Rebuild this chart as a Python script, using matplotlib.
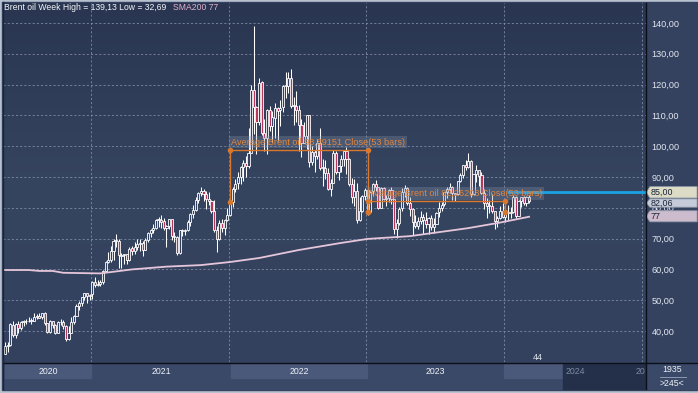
import numpy as np
import matplotlib.pyplot as plt
import matplotlib.transforms as mtransforms
from matplotlib.colors import LinearSegmentedColormap
from matplotlib.patches import Polygon, Rectangle

plt.rcParams['font.family'] = ['Liberation Sans', 'DejaVu Sans']

# weekly Brent candles, week ending 2020-05-22 .. 2024-03-08
opens = [
    # 2020
    32.5, 35.2, 35.4, 42.0, 38.6, 42.2, 41.1, 42.9, 43.3, 43.1, 43.4, 43.4, 44.5, 44.8, 44.4, 45.8, 42.5,
    39.8, 43.1, 41.9, 39.3, 42.8, 42.9, 41.7, 37.5, 39.5, 42.8, 45.0, 48.2, 49.2, 51.0, 52.3, 51.3,
    # 2021
    51.9, 56.0, 55.1, 55.4, 55.9, 59.4, 62.5, 62.9, 65.9, 69.4, 69.3, 64.5, 64.6, 64.9, 63.0, 66.8, 66.1,
    67.3, 68.3, 68.7, 66.4, 69.6, 71.9, 72.7, 73.5, 76.2, 76.2, 75.6, 73.6, 74.1, 76.3, 70.7, 70.6, 65.2,
    72.7, 72.6, 72.9, 75.3, 78.1, 79.3, 82.4, 84.9, 85.5, 84.4, 82.7, 82.2, 78.9, 72.7, 69.9, 75.2, 73.5, 76.1,
    # 2022
    77.8, 81.8, 86.1, 87.9, 90.0, 93.3, 94.4, 93.5, 97.9, 118.1, 112.7, 107.9, 120.7, 104.4, 102.8, 111.7,
    106.7, 109.3, 112.4, 111.6, 112.6, 119.4, 119.7, 122.0, 113.1, 113.1, 111.6, 107.0, 101.2, 103.2, 110.0,
    94.9, 98.2, 96.7, 101.0, 93.0, 92.8, 91.4, 86.2, 88.0, 97.9, 91.6, 93.5, 95.8, 98.6, 96.0, 87.6, 83.6,
    85.6, 76.1, 79.0, 83.9,
    # 2023
    85.9, 78.6, 85.3, 87.6, 86.7, 79.9, 86.4, 83.0, 83.2, 85.8, 82.8, 73.0, 75.0, 79.8, 85.1, 86.3, 81.7,
    79.5, 75.3, 74.2, 75.6, 77.0, 76.1, 74.8, 76.6, 73.9, 74.9, 78.5, 79.9, 81.1, 85.0, 86.2, 86.8, 84.8,
    84.5, 88.6, 90.7, 93.9, 93.3, 95.3, 84.6, 90.9, 92.2, 90.5, 84.9, 81.4, 80.6, 80.6, 78.9, 75.8, 76.6, 79.1,
    # 2024
    77.0, 78.8, 78.3, 78.6, 83.6, 77.3, 82.2, 83.5, 81.6, 83.6,
]
highs = [
    36.4, 36.4, 42.5, 43.4, 42.6, 43.2, 43.2, 43.6, 43.9, 44.7, 44.2, 46.0, 45.5, 46.0, 46.0, 46.2, 42.6,
    43.6, 43.4, 42.4, 43.1, 43.9, 43.6, 41.9, 41.6, 44.4, 45.2, 48.8, 49.9, 51.0, 52.5, 52.5, 51.9,
    56.3, 57.4, 56.6, 56.4, 59.8, 62.8, 65.5, 67.7, 69.8, 71.4, 69.9, 65.2, 65.1, 64.9, 67.3, 67.6, 69.0,
    69.8, 69.9, 69.3, 70.3, 72.1, 73.1, 74.9, 76.4, 77.0, 77.8, 76.6, 74.3, 76.5, 76.4, 72.2, 71.0, 72.8,
    73.2, 73.2, 76.1, 78.2, 80.8, 83.5, 85.1, 86.7, 86.0, 85.3, 85.0, 82.5, 82.6, 74.0, 76.0, 76.3, 76.5, 79.8,
    83.0, 86.7, 89.5, 91.7, 93.7, 95.5, 96.8, 105.8, 119.8, 139.13, 113.0, 122.0, 121.2, 108.9, 112.0, 113.2,
    111.4, 114.0, 112.7, 115.0, 120.0, 124.0, 124.0, 125.2, 116.0, 118.0, 113.4, 108.8, 107.8, 110.2, 110.2,
    100.0, 98.9, 102.2, 106.0, 96.0, 95.5, 93.0, 89.4, 98.8, 98.3, 94.0, 97.0, 98.9, 99.6, 96.3, 89.8, 89.4,
    88.0, 83.4, 84.2, 86.5,
    86.4, 85.5, 88.0, 89.1, 86.9, 86.9, 86.9, 84.0, 86.0, 86.8, 83.0, 76.5, 80.2, 86.4, 87.5, 86.6, 83.5,
    79.9, 77.7, 77.0, 78.9, 78.1, 78.7, 77.0, 77.7, 76.6, 78.6, 81.8, 81.8, 85.1, 86.6, 88.1, 87.2, 84.8,
    88.8, 91.2, 94.0, 95.4, 97.7, 95.5, 91.0, 93.8, 92.3, 91.6, 86.0, 83.3, 82.6, 84.4, 79.1, 77.4, 80.6, 81.4,
    79.2, 80.8, 80.1, 84.0, 83.7, 82.6, 83.6, 83.8, 83.9, 84.1,
]
lows = [
    32.69, 33.3, 35.1, 37.9, 37.7, 39.5, 40.2, 41.7, 42.4, 42.8, 42.2, 43.2, 43.9, 44.2, 44.0, 42.1, 39.4,
    39.3, 41.1, 38.9, 39.2, 41.9, 40.5, 36.6, 37.1, 39.3, 42.2, 44.8, 46.9, 48.1, 50.2, 49.1, 50.2,
    50.4, 54.3, 54.5, 54.5, 55.4, 59.2, 62.0, 62.5, 63.1, 67.2, 60.5, 60.3, 61.6, 61.8, 62.6, 64.8, 64.9,
    66.3, 66.0, 64.3, 66.3, 68.9, 70.4, 71.8, 73.0, 73.8, 73.6, 72.8, 67.4, 73.2, 69.4, 68.8, 64.6, 65.0,
    70.8, 71.1, 72.4, 74.1, 76.6, 79.0, 81.4, 83.8, 82.3, 79.7, 80.8, 78.4, 72.1, 65.7, 69.6, 72.0, 71.1, 75.8,
    77.4, 80.1, 85.1, 86.2, 87.6, 88.7, 90.0, 92.9, 97.8, 104.0, 97.4, 107.0, 103.6, 98.5, 97.6, 104.8,
    101.4, 102.5, 101.7, 106.4, 111.0, 115.7, 117.4, 112.4, 107.0, 108.0, 98.5, 96.4, 101.0, 99.1, 93.2,
    93.8, 91.5, 95.8, 92.4, 87.0, 89.4, 85.9, 83.7, 87.9, 91.0, 89.1, 91.7, 93.6, 91.1, 87.2, 81.6, 80.6,
    75.1, 75.8, 78.5, 82.6,
    77.8, 78.4, 83.7, 85.5, 79.7, 79.9, 82.6, 80.6, 82.0, 81.3, 71.4, 70.1, 74.5, 79.0, 83.6, 80.9, 77.5,
    71.3, 73.4, 73.2, 74.7, 71.4, 73.5, 71.6, 72.9, 71.8, 74.6, 77.0, 78.9, 80.6, 83.2, 84.9, 82.6, 82.3,
    84.3, 88.3, 89.8, 92.3, 92.8, 83.5, 84.3, 88.4, 87.1, 84.5, 79.6, 76.6, 78.4, 78.4, 73.0, 73.8, 76.5, 76.6,
    75.5, 75.9, 76.7, 78.3, 76.6, 77.2, 80.2, 80.9, 80.6, 81.6,
]
closes = [
    35.13, 35.33, 42.30, 38.73, 42.19, 41.02, 42.80, 43.24, 43.14, 43.34, 43.30, 44.40, 44.80, 44.35, 45.81,
    42.66, 39.83, 43.15, 41.92, 39.27, 42.85, 42.93, 41.77, 37.46, 39.45, 42.78, 44.96, 48.18, 49.25, 50.97,
    52.26, 51.29, 51.80,
    55.99, 55.10, 55.41, 55.88, 59.34, 62.43, 62.91, 66.13, 69.36, 69.22, 64.53, 64.57, 64.86, 62.95, 66.77,
    66.11, 67.25, 68.28, 68.71, 66.44, 69.63, 71.89, 72.69, 73.51, 76.18, 76.17, 75.55, 73.59, 74.10, 76.33,
    70.70, 70.59, 65.18, 72.70, 72.61, 72.92, 75.34, 78.09, 79.28, 82.39, 84.86, 85.53, 84.38, 82.74, 82.17,
    78.89, 72.72, 69.88, 75.15, 73.52, 76.14, 77.78,
    81.75, 86.06, 87.89, 90.03, 93.27, 94.44, 93.54, 97.93, 118.11, 112.67, 107.93, 120.65, 104.39, 102.78,
    111.70, 106.65, 109.34, 112.39, 111.55, 112.55, 119.43, 119.72, 122.01, 113.12, 113.12, 111.63, 107.02,
    101.16, 103.20, 110.01, 94.92, 98.15, 96.72, 100.99, 93.02, 92.84, 91.35, 86.15, 87.96, 97.92, 91.63,
    93.50, 95.77, 98.57, 95.99, 87.62, 83.63, 85.57, 76.10, 79.04, 83.92, 85.91,
    78.57, 85.28, 87.63, 86.66, 79.94, 86.39, 83.00, 83.16, 85.83, 82.78, 72.97, 74.99, 79.77, 85.12, 86.31,
    81.66, 79.54, 75.30, 74.17, 75.58, 76.95, 76.13, 74.79, 76.61, 73.85, 74.90, 78.47, 79.87, 81.07, 84.99,
    86.24, 86.81, 84.80, 84.48, 88.55, 90.65, 93.93, 93.27, 95.31, 84.58, 90.89, 92.16, 90.48, 84.89, 81.43,
    80.61, 80.58, 78.88, 75.84, 76.55, 79.07, 77.04,
    78.76, 78.29, 78.56, 83.55, 77.33, 82.19, 83.47, 81.62, 83.55, 82.06,
]

# SMA200 (week index, value)
sma_weeks = [0, 9, 13, 18, 20, 22, 36, 48, 61, 74, 85, 96, 111, 127, 137, 153, 175, 187, 198]
sma_vals = [59.8, 59.8, 59.5, 59.5, 59.2, 58.9, 58.7, 60.0, 60.9, 61.4, 62.4, 63.7, 66.3, 68.6, 69.9,
            70.8, 73.4, 75.2, 77.1]

year_starts = [32.5, 84.5, 136.5, 188.5, 240.7]   # week index of year boundaries
year_labels = ['2020', '2021', '2022', '2023']

avg_2022 = 98.89151
avg_2023 = 82.26208
avg_spans = [(85, 137, avg_2022), (137, 189, avg_2023)]
level_line = 85.0
level_from = 189.6

opens, highs, lows, closes = map(np.array, (opens, highs, lows, closes))
weeks = np.arange(len(closes))

W, H = 698, 393
fig = plt.figure(figsize=(W / 100, H / 100), dpi=100, facecolor='#b7c1cf')

# background (pixel coordinates)
bg = fig.add_axes([0, 0, 1, 1], zorder=0)
bg.set_xlim(0, W)
bg.set_ylim(H, 0)
bg.axis('off')
bg.add_patch(Rectangle((2, 2), W - 3, 388, color='#34425f'))
cmap = LinearSegmentedColormap.from_list('bgc', ['#2a3651', '#35445f', '#33415e'])
bg.imshow(np.linspace(0, 1, 100).reshape(-1, 1), cmap=cmap, aspect='auto',
          extent=[3, 646, 362, 3], zorder=1)
bg.add_patch(Rectangle((3, 363), 643, 26, color='#3b4968', zorder=2))
for x0, x1 in [(5, 91), (231, 367), (504, 563)]:
    bg.add_patch(Rectangle((x0, 364), x1 - x0, 14, color='#4a5879', zorder=3))
bg.add_patch(Rectangle((563, 364), 82, 25, color='#243049', zorder=3))
bg.add_patch(Rectangle((647, 363), 50, 26, color='#3b4968', zorder=2))

# main chart
ax = fig.add_axes([3 / W, 31 / H, 643 / W, 359 / H], zorder=2)
ax.set_facecolor('none')

ax.vlines(weeks, lows, highs, color='white', lw=0.75, zorder=3)
up = closes >= opens
body_lo = np.minimum(opens, closes)
body_h = np.maximum(np.abs(closes - opens), 0.25)
ax.bar(weeks[up], body_h[up], bottom=body_lo[up], width=0.8, color='#33415e',
       edgecolor='white', lw=0.6, zorder=4)
ax.bar(weeks[~up], body_h[~up], bottom=body_lo[~up], width=0.8, color='#b8365a',
       edgecolor='white', lw=0.6, zorder=4)

ax.plot(sma_weeks, sma_vals, color='#e6c6da', lw=1.3, zorder=5)

orange = '#d9782c'
for w0, w1, avg in avg_spans:
    ax.plot([w0, w0, w1, w1], [closes[w0], avg, avg, closes[w1]], color=orange, lw=1, zorder=6)
    ax.plot([w0, w0, w1, w1], [closes[w0], avg, avg, closes[w1]], 'o', color=orange, ms=3, zorder=6)
    txt = f"Average Brent oil {avg:.5f}".replace('.', ',') + " Close(53 bars)"
    ax.annotate(txt, xy=(w0, avg), xytext=(0.5, 2.2), textcoords='offset points',
                color='#e2853c', fontsize=6.6, va='bottom', ha='left', zorder=7,
                bbox=dict(boxstyle='square,pad=0.2', fc='#8a93aa', ec='none', alpha=0.3))

ax.plot([level_from, 242.2], [level_line, level_line], color='#1aa3e3', lw=2, zorder=6,
        solid_capstyle='butt')

ax.set_xlim(-0.756, 242.16)
ax.set_ylim(29.94, 146.49)
ax.set_xticks(year_starts)
ax.set_xticklabels([])
ax.set_yticks(range(40, 150, 10))
ax.set_yticklabels([f"{v},00" for v in range(40, 150, 10)])
ax.yaxis.tick_right()
ax.tick_params(axis='both', length=0, colors='#e2e7f0', labelsize=6.6)
ax.tick_params(axis='y', pad=4)
ax.grid(True, color='#7f8ba6', lw=0.6, ls=(0, (2.5, 2.5)))
ax.set_axisbelow(True)
for s in ax.spines.values():
    s.set_visible(False)

# value tags on the right scale
tr = mtransforms.blended_transform_factory(ax.transAxes, ax.transData)
tags = [(85.03, 1.85, '85,00', '#dcdcc6'), (81.55, 1.35, '82,06', '#c5cbd8'), (77.25, 1.8, '77', '#cdbccd')]
for val, hh, lab, fc in tags:
    poly = Polygon([(1.0005, val), (1.006, val + hh), (1.0795, val + hh), (1.0795, val - hh),
                    (1.006, val - hh)], closed=True, transform=tr, fc=fc, ec='#8d96a8', lw=0.6,
                   clip_on=False, zorder=8)
    ax.add_patch(poly)
    ax.text(1.0075, val, lab, transform=tr, color='#1a2238', fontsize=6.4, va='center',
            ha='left', clip_on=False, zorder=9)

# overlay texts and separators (pixel coordinates)
ov = fig.add_axes([0, 0, 1, 1], zorder=3)
ov.set_xlim(0, W)
ov.set_ylim(H, 0)
ov.axis('off')
ov.text(4, 8, "Brent oil Week High = 139,13 Low = 32,69", color='#f2f4f8', fontsize=6.2, va='center')
ov.text(173, 8, "SMA200 77", color='#e3b0cb', fontsize=6.2, va='center')
ov.text(538, 357, "44", color='#e2e7f0', fontsize=6.4, va='center', ha='center')
ov.plot([3, 698], [362.5, 362.5], color='#0b0f1a', lw=1)
ov.plot([646, 646], [3, 389], color='#0b0f1a', lw=1)
ov.plot([2.5, 2.5], [2, 389], color='#1c2438', lw=1)

centers = [(5 + 91) / 2, (91 + 231) / 2, (231 + 367) / 2, (367 + 504) / 2]
for cx, lab in zip(centers, year_labels):
    ov.text(cx, 371, lab, color='#eef1f6', fontsize=6.3, ha='center', va='center')
ov.text(566, 371, '2024', color='#7d8aa3', fontsize=6.3, ha='left', va='center')
ov.text(636, 371, '20', color='#7d8aa3', fontsize=6.3, ha='left', va='center')
ov.text(672, 370, '1935', color='#eef1f6', fontsize=6.3, ha='center', va='center')
ov.plot([660, 686], [377, 377], color='#9aa6bb', lw=0.6)
ov.text(672, 383, '>245<', color='#eef1f6', fontsize=6.3, ha='center', va='center')

fig.savefig('out.png', dpi=100, facecolor=fig.get_facecolor())
